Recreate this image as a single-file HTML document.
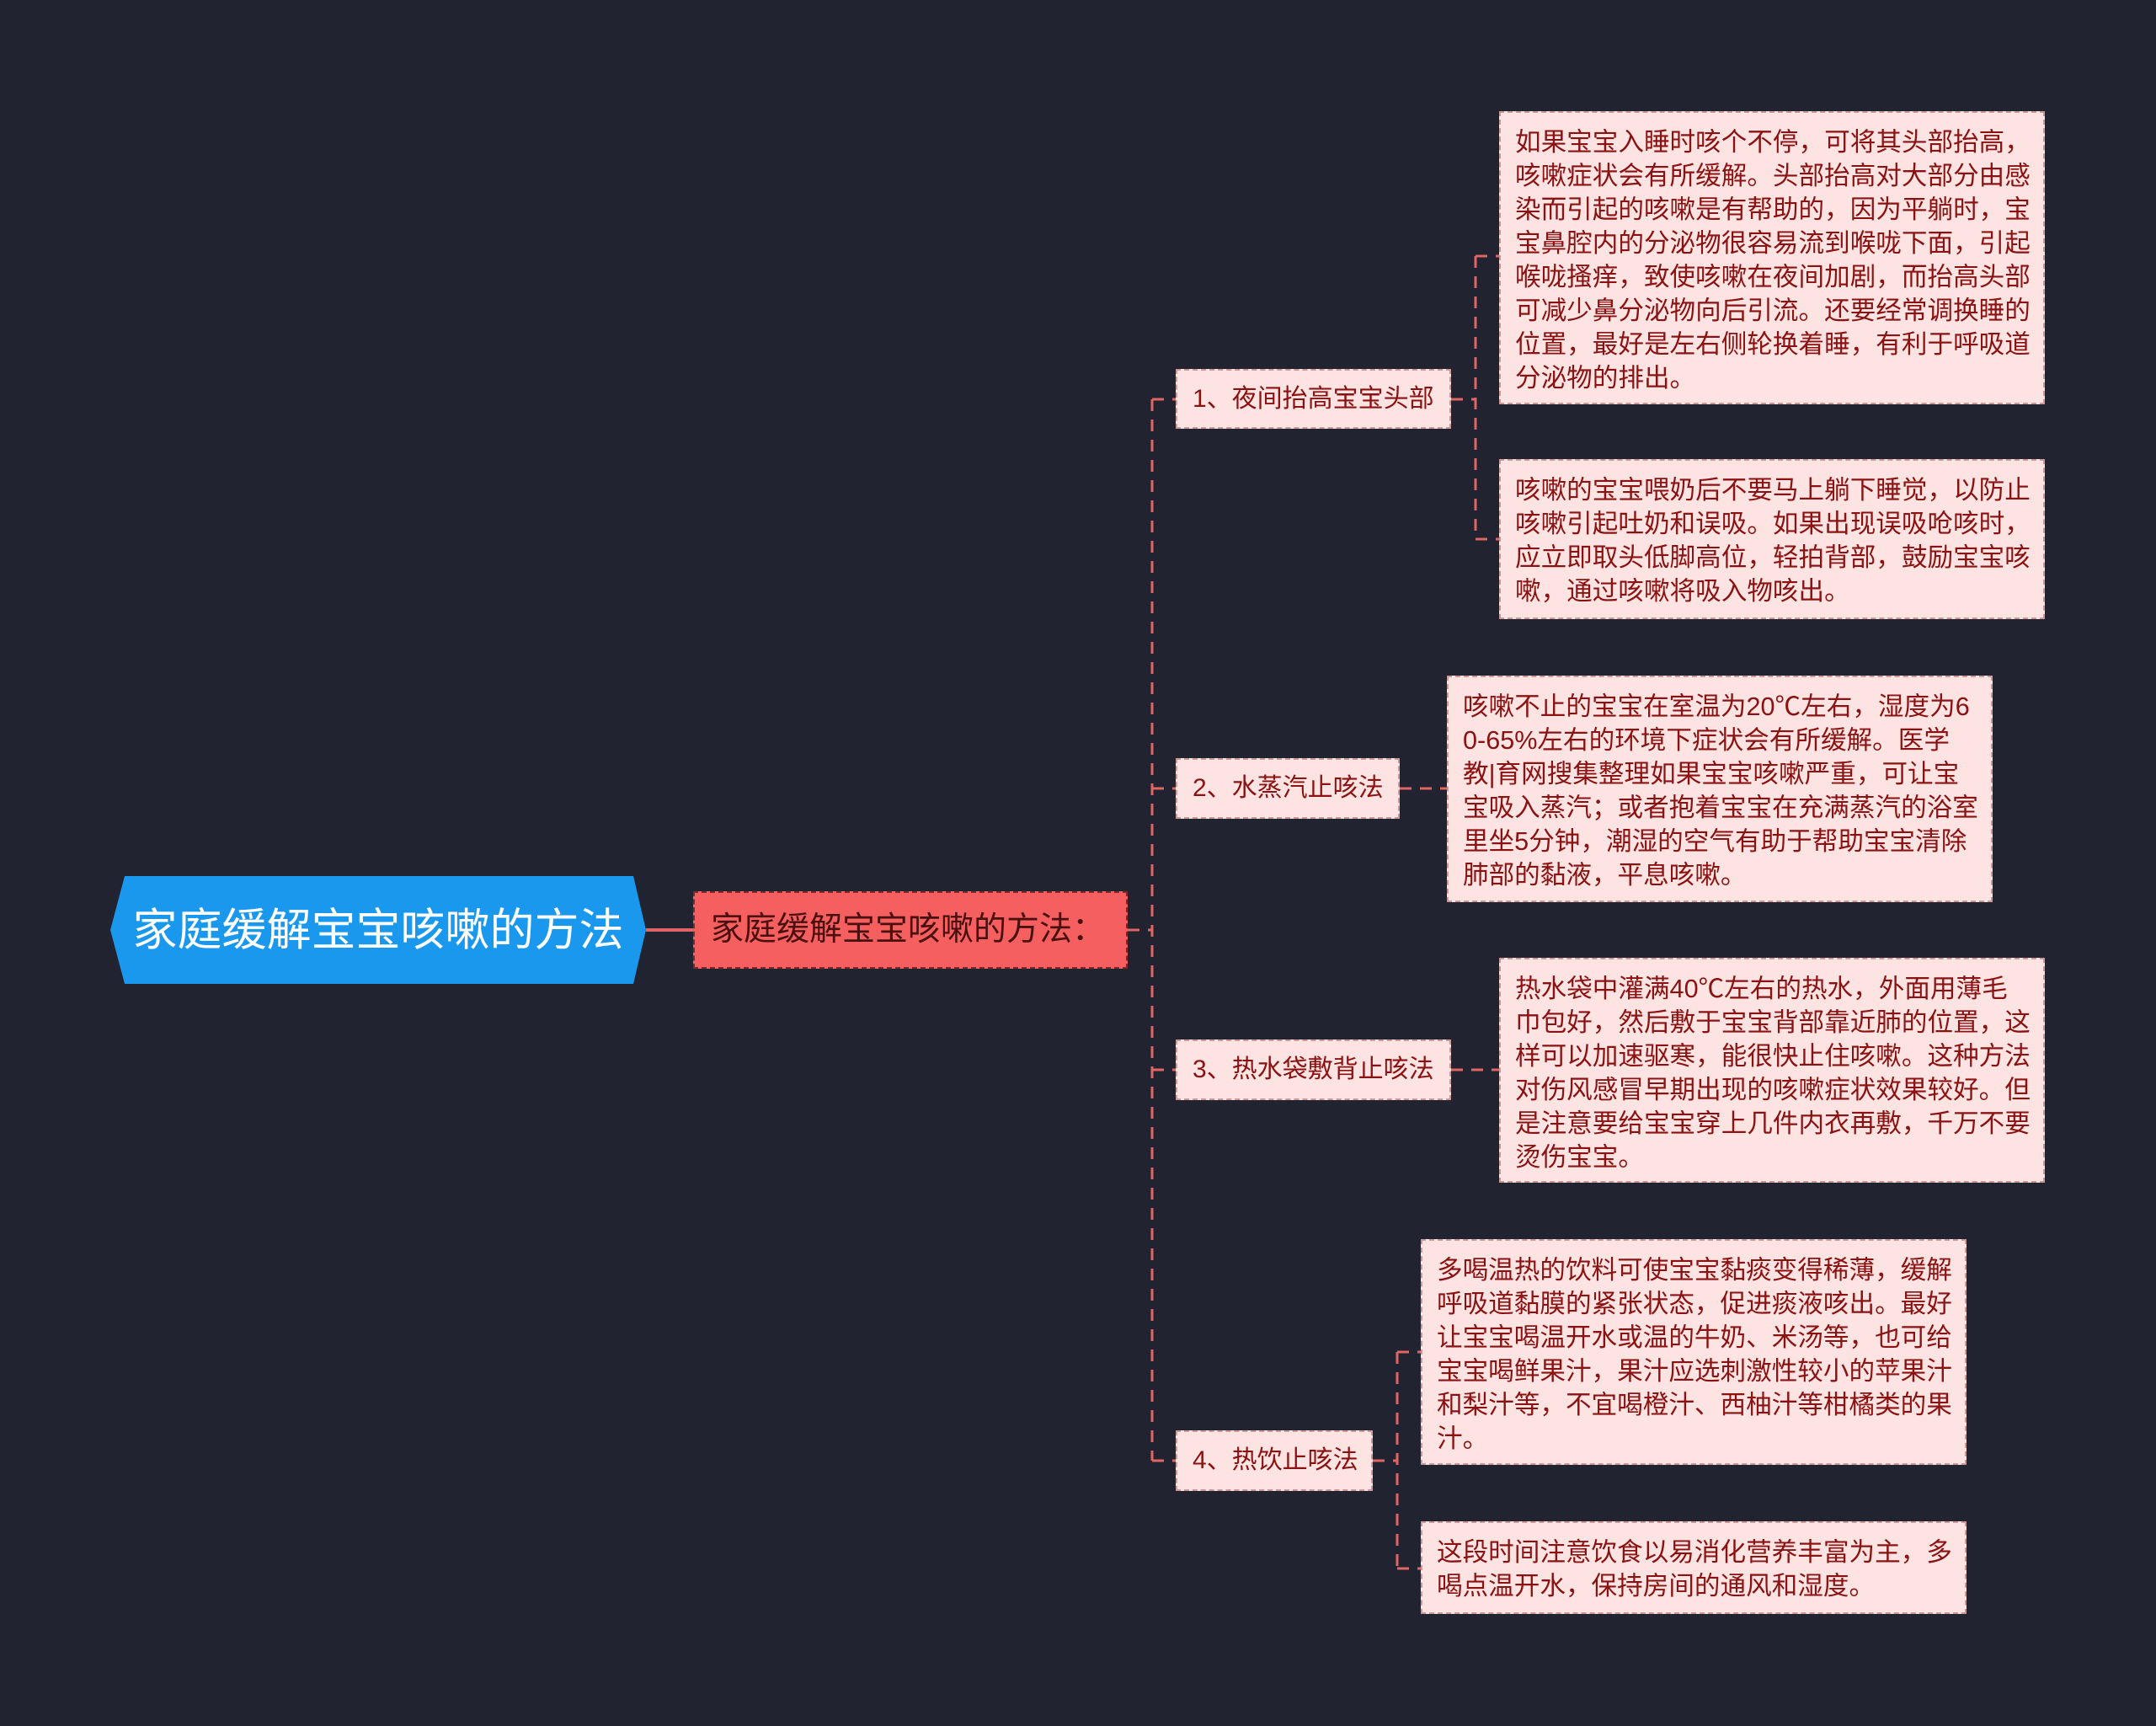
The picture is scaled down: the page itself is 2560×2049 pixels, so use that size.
<!DOCTYPE html>
<html><head><meta charset="utf-8"><style>
html,body{margin:0;padding:0}
body{width:2560px;height:2049px;background:#212430;position:relative;overflow:hidden;font-family:"Liberation Sans","Noto Sans CJK SC",sans-serif}
.b{position:absolute;box-sizing:border-box}
.leaf{background:#fde3e1;border:2px dashed #c99;color:#8a1212;font-size:30.6px;line-height:40px;padding:15px 0 0 17px;white-space:nowrap}
.n2{background:#fde3e1;border:2px dashed #c99;color:#8a1212;font-size:30px;line-height:68px;padding-left:18px;white-space:nowrap}
</style></head><body>
<svg class="b" style="left:0;top:0" width="2560" height="2049">
<g stroke="#e06666" stroke-width="3" fill="none" stroke-dasharray="14 10">
<line x1="1368" y1="474" x2="1368" y2="1734"/>
<line x1="1339" y1="1104" x2="1368" y2="1104"/>
<line x1="1368" y1="474" x2="1396" y2="474"/>
<line x1="1368" y1="936" x2="1396" y2="936"/>
<line x1="1368" y1="1270" x2="1396" y2="1270"/>
<line x1="1368" y1="1734" x2="1396" y2="1734"/>
<line x1="1723" y1="474" x2="1752" y2="474"/>
<line x1="1752" y1="304" x2="1752" y2="640"/>
<line x1="1752" y1="304" x2="1780" y2="304"/>
<line x1="1752" y1="640" x2="1780" y2="640"/>
<line x1="1662" y1="936" x2="1718" y2="936"/>
<line x1="1723" y1="1270" x2="1780" y2="1270"/>
<line x1="1630" y1="1734" x2="1659" y2="1734"/>
<line x1="1659" y1="1605" x2="1659" y2="1862"/>
<line x1="1659" y1="1605" x2="1687" y2="1605"/>
<line x1="1659" y1="1862" x2="1687" y2="1862"/>
</g>
<line x1="767" y1="1104" x2="823" y2="1104" stroke="#e06666" stroke-width="4"/>
<polygon points="148,1040 752,1040 767,1104 752,1168 148,1168 131,1104" fill="#1a98ee"/>
<text x="449" y="1122" fill="#fff" font-size="53" text-anchor="middle" font-family="Liberation Sans, Noto Sans CJK SC, sans-serif">家庭缓解宝宝咳嗽的方法</text>
</svg>
<div class="b" style="left:823px;top:1058px;width:516px;height:92px;background:#f55f5f;border:2px dashed #7a2a2a;color:#4a1010;font-size:39px;line-height:88px;padding-left:19px;white-space:nowrap">家庭缓解宝宝咳嗽的方法：</div>
<div class="b n2" style="left:1396px;top:438px;width:327px;height:71px">1、夜间抬高宝宝头部</div>
<div class="b n2" style="left:1396px;top:900px;width:266px;height:72px">2、水蒸汽止咳法</div>
<div class="b n2" style="left:1396px;top:1234px;width:327px;height:72px">3、热水袋敷背止咳法</div>
<div class="b n2" style="left:1396px;top:1698px;width:234px;height:72px">4、热饮止咳法</div>
<div class="b leaf" style="left:1780px;top:132px;width:648px;height:348px">如果宝宝入睡时咳个不停，可将其头部抬高，<br>咳嗽症状会有所缓解。头部抬高对大部分由感<br>染而引起的咳嗽是有帮助的，因为平躺时，宝<br>宝鼻腔内的分泌物很容易流到喉咙下面，引起<br>喉咙搔痒，致使咳嗽在夜间加剧，而抬高头部<br>可减少鼻分泌物向后引流。还要经常调换睡的<br>位置，最好是左右侧轮换着睡，有利于呼吸道<br>分泌物的排出。</div>
<div class="b leaf" style="left:1780px;top:545px;width:648px;height:190px">咳嗽的宝宝喂奶后不要马上躺下睡觉，以防止<br>咳嗽引起吐奶和误吸。如果出现误吸呛咳时，<br>应立即取头低脚高位，轻拍背部，鼓励宝宝咳<br>嗽，通过咳嗽将吸入物咳出。</div>
<div class="b leaf" style="left:1718px;top:802px;width:648px;height:269px">咳嗽不止的宝宝在室温为20℃左右，湿度为6<br>0-65%左右的环境下症状会有所缓解。医学<br>教|育网搜集整理如果宝宝咳嗽严重，可让宝<br>宝吸入蒸汽；或者抱着宝宝在充满蒸汽的浴室<br>里坐5分钟，潮湿的空气有助于帮助宝宝清除<br>肺部的黏液，平息咳嗽。</div>
<div class="b leaf" style="left:1780px;top:1137px;width:648px;height:267px">热水袋中灌满40℃左右的热水，外面用薄毛<br>巾包好，然后敷于宝宝背部靠近肺的位置，这<br>样可以加速驱寒，能很快止住咳嗽。这种方法<br>对伤风感冒早期出现的咳嗽症状效果较好。但<br>是注意要给宝宝穿上几件内衣再敷，千万不要<br>烫伤宝宝。</div>
<div class="b leaf" style="left:1687px;top:1471px;width:648px;height:268px">多喝温热的饮料可使宝宝黏痰变得稀薄，缓解<br>呼吸道黏膜的紧张状态，促进痰液咳出。最好<br>让宝宝喝温开水或温的牛奶、米汤等，也可给<br>宝宝喝鲜果汁，果汁应选刺激性较小的苹果汁<br>和梨汁等，不宜喝橙汁、西柚汁等柑橘类的果<br>汁。</div>
<div class="b leaf" style="left:1687px;top:1806px;width:648px;height:110px">这段时间注意饮食以易消化营养丰富为主，多<br>喝点温开水，保持房间的通风和湿度。</div>
</body></html>
